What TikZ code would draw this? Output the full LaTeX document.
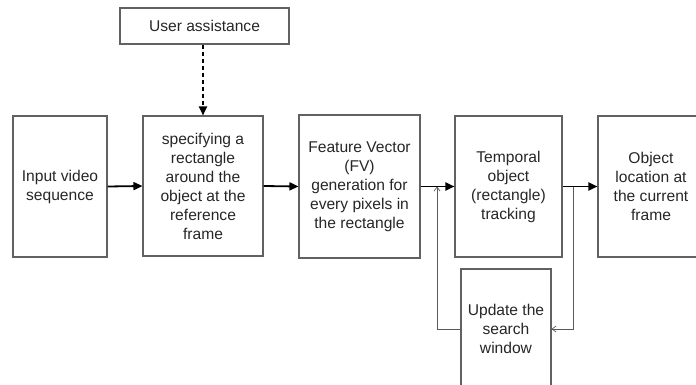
\documentclass[tikz,border=0pt]{standalone}
\usepackage{fontspec}
\setmainfont{Liberation Sans}
\usetikzlibrary{arrows.meta}
\begin{document}
\begin{tikzpicture}[x=1pt,y=-1pt,
  box/.style={draw=black!62,line width=1.1pt,rectangle,inner sep=0pt,align=center,
    font=\fontsize{15.6}{19}\selectfont,text=black!85},
  flow/.style={line width=1.8pt,-{Triangle[length=9pt,width=8pt]}},
  dflow/.style={flow,dash pattern=on 4pt off 3pt},
  fb/.style={draw=black!65,line width=1pt,-{Straight Barb[length=4pt,width=6pt,line width=0.7pt]}}]
\useasboundingbox (0,0) rectangle (696,385);
\clip (0,0) rectangle (696,385);
\node[box,minimum width=169pt,minimum height=36pt] (ua) at (204.5,26) {User assistance};
\node[box,minimum width=94pt,minimum height=141pt] (b1) at (60,186.5) {Input video\\sequence};
\node[box,minimum width=120pt,minimum height=140pt] (b2) at (203,186) {specifying a\\rectangle\\around the\\object at the\\reference\\frame};
\node[box,minimum width=121pt,minimum height=143pt] (b3) at (359.5,186.5) {Feature Vector\\(FV)\\generation for\\every pixels in\\the rectangle};
\node[box,minimum width=107pt,minimum height=141pt] (b4) at (508.5,186.5) {Temporal\\object\\(rectangle)\\tracking};
\node[box,minimum width=106pt,minimum height=141pt] (b5) at (651,186.5) {Object\\location at\\the current\\frame};
\node[box,minimum width=90pt,minimum height=120pt] (up) at (506,329) {Update the\\search\\window};
\coordinate (j1) at (573,186.5);
\coordinate (j2) at (437,186.5);
\draw[fb] (j1) |- (up.east);
\draw[fb] (up.west) -| (j2);
\draw[dflow] (ua.south -| b2.north) -- (b2.north);
\draw[flow] (b1.east) -- (b2.west);
\draw[flow] (b2.east) -- (b3.west);
\draw[flow] (b3.east) -- (b4.west);
\draw[flow] (b4.east) -- (b5.west);
\end{tikzpicture}
\end{document}
